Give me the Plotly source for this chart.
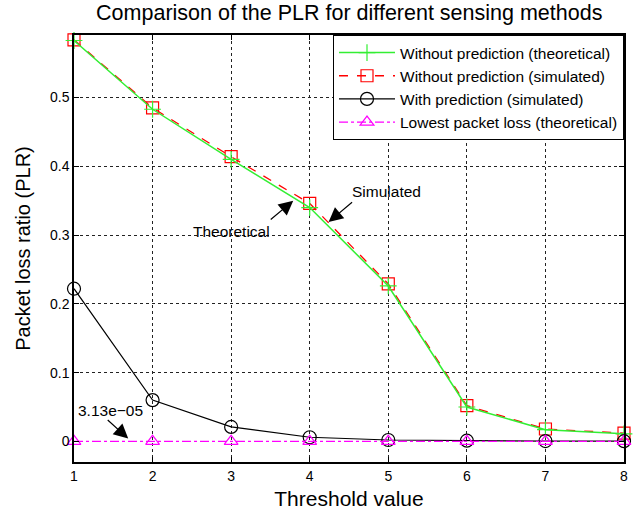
import plotly.graph_objects as go

thresholds = [1, 2, 3, 4, 5, 6, 7, 8]
no_pred_theoretical = [0.583, 0.483, 0.410, 0.340, 0.226, 0.050, 0.017, 0.011]
no_pred_simulated = [0.584, 0.485, 0.414, 0.346, 0.229, 0.052, 0.018, 0.012]
with_pred_simulated = [0.222, 0.060, 0.021, 0.006, 0.002, 0.001, 0.0005, 0.0003]
lowest_theoretical = [3.13e-05] * 8
y_ticks = [0, 0.1, 0.2, 0.3, 0.4, 0.5]
y_tick_labels = ["0", "0.1", "0.2", "0.3", "0.4", "0.5"]

FONT = "Liberation Sans, Arial, Helvetica, sans-serif"

fig = go.Figure()
fig.add_trace(go.Scatter(
    x=thresholds, y=no_pred_simulated, name="Without prediction (simulated)",
    mode="lines+markers", legendrank=2, cliponaxis=False,
    line=dict(color="#ff0000", width=1.3, dash="dash"),
    marker=dict(symbol="square-open", size=12, color="#ff0000", line=dict(width=1.2)),
))
fig.add_trace(go.Scatter(
    x=thresholds, y=no_pred_theoretical, name="Without prediction (theoretical)",
    mode="lines+markers", legendrank=1, cliponaxis=False,
    line=dict(color="#33ee33", width=1.5),
    marker=dict(symbol="cross-thin-open", size=12, color="#33ee33", line=dict(width=1.2, color="#33ee33")),
))
fig.add_trace(go.Scatter(
    x=thresholds, y=with_pred_simulated, name="With prediction (simulated)",
    mode="lines+markers", legendrank=3, cliponaxis=False,
    line=dict(color="black", width=1.2),
    marker=dict(symbol="circle-open", size=13, color="black", line=dict(width=1.2)),
))
fig.add_trace(go.Scatter(
    x=thresholds, y=lowest_theoretical, name="Lowest packet loss (theoretical)",
    mode="lines+markers", legendrank=4, cliponaxis=False,
    line=dict(color="#ff00ff", width=1.2, dash="dashdot"),
    marker=dict(symbol="triangle-up-open", size=12, color="#ff00ff", line=dict(width=1.2)),
))

arrow = dict(showarrow=True, arrowhead=2, arrowsize=2.4, arrowwidth=1.2,
             arrowcolor="black", axref="pixel", ayref="pixel", text="")
fig.add_annotation(x=3.79, y=0.350, ax=-24, ay=20, **arrow)
fig.add_annotation(x=4.24, y=0.319, ax=25, ay=-21, **arrow)
fig.add_annotation(x=1.69, y=0.004, ax=-22, ay=-20, **arrow)

txt = dict(showarrow=False, font=dict(family=FONT, size=15.5, color="black"))
fig.add_annotation(x=3.01, y=0.305, text="Theoretical", **txt)
fig.add_annotation(x=4.98, y=0.364, text="Simulated", **txt)
fig.add_annotation(x=1.47, y=0.045, text="3.13e\u221205", **txt)

axis_common = dict(
    showline=True, linecolor="black", linewidth=1.5, mirror="ticks",
    ticks="inside", ticklen=5, tickcolor="black", tickwidth=1,
    showgrid=True, gridcolor="#222222", griddash="dot", gridwidth=1,
    zeroline=False, tickfont=dict(family=FONT, size=14, color="black"),
)

fig.update_xaxes(range=[1, 8], tickvals=thresholds,
                 title=dict(text="Threshold value", font=dict(family=FONT, size=21, color="black"), standoff=9),
                 **axis_common)
fig.update_yaxes(range=[-0.03, 0.591], tickvals=y_ticks, ticktext=y_tick_labels,
                 title=dict(text="Packet loss ratio (PLR)", font=dict(family=FONT, size=20, color="black"), standoff=14),
                 **axis_common)

fig.update_layout(
    width=635, height=514,
    margin=dict(l=74, r=7, t=35, b=43),
    paper_bgcolor="white", plot_bgcolor="white",
    title=dict(text="Comparison of the PLR for different sensing methods",
               x=0.55, xanchor="center", y=0.975, yanchor="middle",
               font=dict(family=FONT, size=21.5, color="black")),
    legend=dict(x=1, xanchor="right", y=1, yanchor="top",
                bgcolor="white", bordercolor="black", borderwidth=1,
                font=dict(family=FONT, size=15.5, color="black"),
                itemwidth=56, tracegroupgap=0),
    showlegend=True,
)

fig.write_html("out.html")
